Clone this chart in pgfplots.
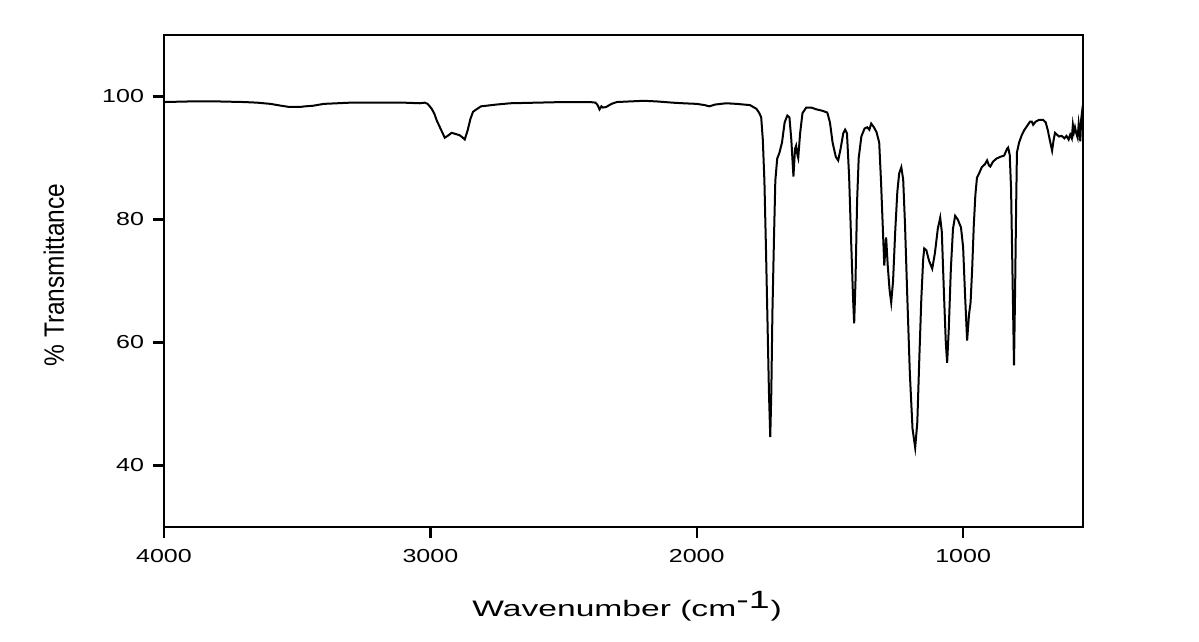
\documentclass[border=0pt]{standalone}
\usepackage{fontspec}
\setmainfont{Liberation Sans}
\newfontfamily\tickfont[FakeStretch=1.33]{Liberation Sans}
\newfontfamily\xlabfont[FakeStretch=1.5]{Liberation Sans}
\newfontfamily\ylabfont[FakeStretch=0.875]{Liberation Sans}
\usepackage{pgfplots}
\pgfplotsset{compat=1.18}
\begin{document}
\begin{tikzpicture}[x=1pt,y=1pt]
\useasboundingbox (-82,-57.5) rectangle (517.5,263.5);
\begin{axis}[
  at={(0,0)}, anchor=south west,
  scale only axis, width=459.5pt, height=246pt,
  xmin=550, xmax=4000, ymin=30, ymax=110,
  x dir=reverse,
  xtick={1000,2000,3000,4000},
  ytick={40,60,80,100},
  tick align=outside, xtick pos=lower, ytick pos=left,
  major tick length=5.5pt,
  axis line style={line width=1.2pt},
  every tick/.style={line width=1.2pt, black},
  /pgf/number format/assume math mode=true,
  /pgf/number format/1000 sep={},
  tick label style={font=\tickfont\fontsize{9.4}{10}\selectfont},
  xticklabel style={yshift=-2pt},
  yticklabel style={xshift=-1pt},
  xlabel={\xlabfont\fontsize{11.2}{12}\selectfont Wavenumber (cm\textsuperscript{\fontsize{12.5}{12}\selectfont -1})},
  xlabel style={at={(axis description cs:0.504,0)}, anchor=base, yshift=-44.85pt},
  ylabel={\ylabfont\fontsize{14}{15}\selectfont \% Transmittance},
  ylabel style={at={(axis description cs:-0.1197,0.512)}, anchor=center},
  clip=true,
]
\addplot[black, line width=1pt] coordinates {
(4000,99.1) (3900,99.2) (3800,99.2) (3700,99.1) (3650,99.0) (3600,98.8) (3560,98.5)
(3530,98.3) (3490,98.3) (3470,98.4) (3440,98.5) (3400,98.8) (3300,99.0) (3200,99.0)
(3100,99.0) (3040,98.9) (3021,99.0) (3010,98.8) (2995,98.0) (2985,97.2) (2976,96.1)
(2960,94.6) (2946,93.3) (2935,93.6) (2920,94.1) (2905,93.9) (2890,93.7) (2878,93.3)
(2871,93.0) (2860,94.5) (2850,96.3) (2840,97.5) (2834,97.7) (2810,98.4) (2750,98.7)
(2700,98.9) (2600,99.0) (2500,99.1) (2400,99.1) (2380,99.0) (2372,98.6) (2365,97.9)
(2358,98.4) (2352,98.2) (2340,98.3) (2320,98.8) (2300,99.1) (2250,99.2) (2200,99.3)
(2150,99.2) (2091,99.0) (2050,98.9) (2000,98.8) (1970,98.6) (1953,98.4) (1930,98.7)
(1889,98.9) (1850,98.8) (1800,98.6) (1776,98.0) (1765,97.3) (1758,96.6) (1752,93)
(1746,86.3) (1740,75) (1735,64.7) (1729,52) (1724,44.6) (1720,52) (1716,64.7)
(1710,77) (1705,86.3) (1698,89.9) (1690,90.8) (1680,92.5) (1670,95.8) (1660,96.9)
(1652,96.6) (1645,93) (1637,87.0) (1631,91.5) (1627,92.0) (1622,90.5) (1619,90.0)
(1612,94) (1603,97.3) (1589,98.2) (1570,98.2) (1550,97.9) (1530,97.7) (1510,97.4)
(1500,95.8) (1490,92.5) (1478,90.2) (1469,89.6) (1460,91.5) (1450,94.0) (1443,94.6)
(1436,94.0) (1428,87) (1420,76) (1413,67) (1409,63.1) (1404,70) (1398,83) (1392,90)
(1382,93.5) (1370,94.8) (1360,95.0) (1352,94.6) (1345,95.6) (1335,95.0) (1325,94.2)
(1315,92.5) (1308,86) (1300,77) (1296,72.5) (1289,77.1) (1283,72.5) (1276,68.5)
(1270,66.5) (1263,70) (1255,78) (1247,84.5) (1240,87.5) (1232,88.5) (1225,86.5)
(1218,79) (1210,68) (1200,55) (1190,46) (1180,42.9) (1172,47) (1164,58) (1157,67)
(1150,73.5) (1146,75.3) (1138,75.0) (1128,73.3) (1116,72.0) (1106,74.5) (1095,78.5)
(1086,80.3) (1080,78) (1072,68) (1065,60) (1060,56.7) (1054,62) (1046,72) (1038,78.5)
(1030,80.6) (1020,80) (1008,78.7) (1000,75.5) (993,68) (985,60.3) (978,64.5)
(972,66.5) (966,72) (960,79) (954,84) (948,86.8) (940,87.5) (930,88.5) (918,89.0)
(910,89.6) (903,88.8) (898,88.6) (888,89.4) (875,89.9) (860,90.2) (846,90.4)
(835,91.5) (831,91.7) (825,90.5) (820,85) (815,72) (809,56.3) (805,68) (801,82)
(798,90.9) (790,92.5) (780,93.7) (771,94.5) (760,95.2) (749,95.9) (742,95.9)
(737,95.4) (728,95.9) (715,96.2) (700,96.2) (690,95.8) (682,94.5) (675,93.0)
(666,91.2) (660,93.0) (655,94.1) (648,93.8) (640,93.5) (630,93.6) (620,93.2)
(612,93.6) (604,93.0) (598,93.8) (592,93.2) (588,95.4) (584,94.2) (580,95.0)
(575,94.0) (570,93.3) (566,95.6) (563,94.6) (560,92.7) (557,96.2) (554,97.3) (550,96.0)
};
\end{axis}
\end{tikzpicture}
\end{document}
